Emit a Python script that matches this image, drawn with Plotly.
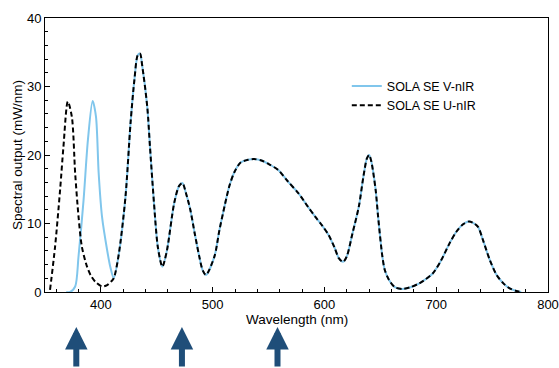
import plotly.graph_objects as go

# U-nIR head (below ~412 nm)
u_head_nm = [354.5, 359, 363.5, 366.5, 370.4, 374, 377, 380, 383, 387.6, 391, 395, 401, 405.6, 409, 411.5]
u_head_mw = [0.3, 6.6, 14.9, 21.2, 27.8, 25.6, 17.3, 11.0, 6.6, 3.7, 2.4, 1.5, 0.8, 1.0, 1.5, 2.0]

# V-nIR head (below ~412 nm)
v_head_nm = [369, 372.5, 377, 380, 384.5, 388.4, 392.6, 395.6, 398, 401, 405.6, 408.5, 411.5]
v_head_mw = [0.0, 0.0, 0.8, 5.2, 13.4, 22.2, 27.9, 25.6, 17.4, 11.0, 6.1, 3.6, 2.0]

# Shared spectrum (above ~412 nm)
common_nm = [416, 422, 426.5, 430, 433, 435, 437, 441.5, 444, 447.5, 451, 455, 459, 465.6, 470, 473,
             476, 480, 484, 488, 491, 494, 501.6, 506, 510.6, 515, 519.7, 525, 531.7, 537, 543.7, 550,
             558.7, 567, 576.8, 585, 591.7, 598, 603.8, 609, 613, 616.7, 620, 625, 630.8, 635, 638, 640,
             642, 645.8, 648, 651.8, 654, 657.8, 663, 669.8, 677, 684.9, 690, 696.8, 704, 711.9, 718, 724,
             729.3, 733, 737.4, 742, 747.9, 754, 759.9, 765, 771.6, 776]
common_mw = [5.5, 13.9, 24.6, 31.0, 34.6, 34.8, 33.0, 27.0, 21.0, 13.0, 6.5, 3.7, 6.0, 13.0, 15.5, 15.9,
             14.5, 12.0, 8.5, 5.2, 3.2, 2.5, 5.2, 9.0, 12.5, 15.5, 17.6, 18.9, 19.3, 19.4, 19.2, 18.7,
             17.8, 16.2, 14.4, 12.5, 11.0, 9.7, 8.3, 6.5, 4.9, 4.4, 5.2, 8.5, 12.5, 17.0, 19.5, 20.0,
             19.0, 14.9, 11.0, 5.2, 3.2, 1.75, 0.7, 0.45, 0.7, 1.27, 1.8, 2.7, 4.5, 7.1, 8.8, 9.9,
             10.3, 10.1, 9.5, 7.5, 4.7, 2.5, 1.3, 0.6, 0.15, 0.0]

series_names = ["SOLA SE V-nIR", "SOLA SE U-nIR"]
arrow_nm = [378, 472.5, 558]
x_title = "Wavelength (nm)"
y_title = "Spectral output (mW/nm)"

x_ticks = [400, 500, 600, 700, 800]
y_ticks = [0, 10, 20, 30, 40]

FONT = "Liberation Sans, Arial, Helvetica, sans-serif"

fig = go.Figure()
fig.add_trace(go.Scatter(
    x=v_head_nm + common_nm, y=v_head_mw + common_mw, mode="lines",
    name=series_names[0], line=dict(color="#80c6ec", width=2, shape="spline", smoothing=0.8),
))
fig.add_trace(go.Scatter(
    x=u_head_nm + common_nm, y=u_head_mw + common_mw, mode="lines",
    name=series_names[1], line=dict(color="black", width=2, dash="5px,3px", shape="spline", smoothing=0.8),
))

for a in arrow_nm:
    fig.add_annotation(
        x=a, y=-0.128, xref="x", yref="paper", text="", showarrow=True,
        ax=0, ay=60, arrowhead=2, arrowsize=0.75, arrowwidth=6, arrowcolor="#1f4e79",
    )

# axis titles as annotations for precise placement
fig.add_annotation(x=0.5, y=-0.101, xref="paper", yref="paper", text=x_title, showarrow=False,
                   xanchor="center", yanchor="middle", borderpad=0,
                   font=dict(size=13.5, family=FONT, color="black"))
fig.add_annotation(x=-0.0557, y=0.5, xref="paper", yref="paper", text=y_title, showarrow=False,
                   textangle=-90, xanchor="center", yanchor="middle", borderpad=0,
                   font=dict(size=13.5, family=FONT, color="black"))

fig.update_layout(
    width=559, height=368,
    margin=dict(l=45, r=11, t=18, b=76, autoexpand=False),
    paper_bgcolor="white", plot_bgcolor="white",
    font=dict(family=FONT, color="black", size=13),
    showlegend=True,
    legend=dict(x=0.6, y=0.805, xanchor="left", yanchor="top", bgcolor="rgba(0,0,0,0)",
                font=dict(size=12.5, family=FONT), tracegroupgap=0),
)
fig.update_xaxes(
    range=[350, 800], tickvals=x_ticks, ticks="inside", ticklen=5, tickcolor="black",
    showline=True, linecolor="black", linewidth=1, mirror=True, showgrid=False, zeroline=False,
    minor=dict(dtick=20, ticks="inside", ticklen=3, tickcolor="black", showgrid=False),
    tickfont=dict(size=13), automargin=False,
)
fig.update_yaxes(
    range=[0, 40], tickvals=y_ticks, ticks="inside", ticklen=5, tickcolor="black",
    showline=True, linecolor="black", linewidth=1, mirror=True, showgrid=False, zeroline=False,
    minor=dict(dtick=2, ticks="inside", ticklen=3, tickcolor="black", showgrid=False),
    tickfont=dict(size=13), automargin=False,
)

fig.write_html("out.html", config={"displayModeBar": False},
               post_script="document.body.style.margin='0';")
